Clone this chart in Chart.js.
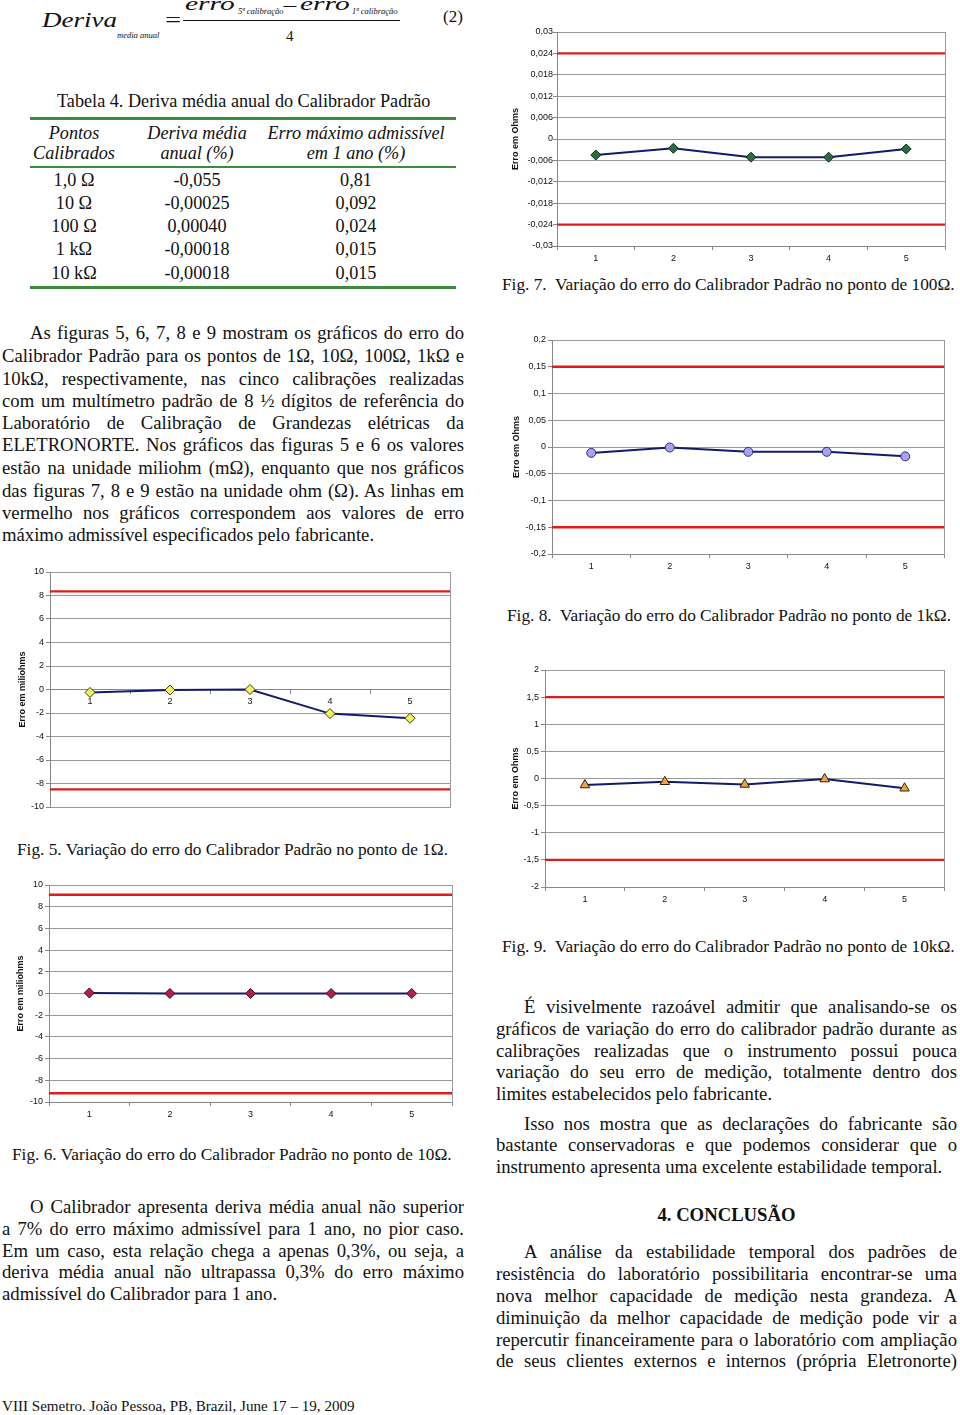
<!DOCTYPE html>
<html lang="pt">
<head>
<meta charset="utf-8">
<title>Deriva do Calibrador Padrão</title>
<script src="https://cdn.jsdelivr.net/npm/chart.js@4/dist/chart.umd.min.js"></script>
<style>
  html, body { margin: 0; padding: 0; background: #fff; }
  body { width: 960px; height: 1415px; position: relative; overflow: hidden;
         font-family: 'Liberation Serif', 'Times New Roman', serif; color: #111; }
  .eq { position: absolute; line-height: 1; white-space: nowrap; font-style: italic; transform-origin: left top; }
  .up { font-style: normal; }
  .ln { position: absolute; height: 22px; line-height: 22px; font-size: 18.7px; overflow: hidden; margin-top: 2px; }
  .j { text-align: justify; text-align-last: justify; }
  .ind { text-indent: 28px; }
  .cap { position: absolute; font-size: 17.3px; line-height: 20px; white-space: nowrap; margin-top: 2px; }
  .tb { position: absolute; font-size: 18.2px; line-height: 21px; text-align: center; white-space: nowrap; margin-top: 1.5px; }
  .it { font-style: italic; }
  .rule { position: absolute; left: 30px; width: 426px; background: #3a8d3a; }
  .graf { position: absolute; }
</style>
</head>
<body>

<!-- equação (2) -->
<span class="eq" style="left:42px; top:9.9px; font-size:20px; transform:scaleX(1.35)">Deriva</span>
<span class="eq" style="left:117px; top:30.6px; font-size:8.5px">media anual</span>
<span class="eq up" style="left:165px; top:8.5px; font-size:22px; transform:scaleX(1.3)">=</span>
<span class="eq" style="left:185px; top:-5.9px; font-size:19px; transform:scaleX(1.55)">erro</span>
<span class="eq" style="left:238px; top:6.9px; font-size:8.5px">5ª calibração</span>
<span class="eq up" style="left:282px; top:-4px; font-size:20px; transform:scaleX(1.4)">−</span>
<span class="eq" style="left:300px; top:-5.9px; font-size:19px; transform:scaleX(1.55)">erro</span>
<span class="eq" style="left:352px; top:6.9px; font-size:8.5px">1ª calibração</span>
<div style="position:absolute; left:183px; top:20px; width:217px; height:1.2px; background:#111"></div>
<span class="eq up" style="left:286px; top:29.1px; font-size:15px">4</span>
<span class="eq up" style="left:443px; top:7.8px; font-size:17px">(2)</span>

<!-- Tabela 4 -->
<div class="tb" style="left:57px; top:89.5px; text-align:left">Tabela 4. Deriva média anual do Calibrador Padrão</div>
<div class="rule" style="top:116.5px; height:3px"></div>
<div class="rule" style="top:166px; height:2px"></div>
<div class="rule" style="top:285.5px; height:3px"></div>
<div id="tabela"></div>

<!-- texto coluna esquerda -->
<div class="ln j ind" style="left:2px; width:462px; top:320px">As figuras 5, 6, 7, 8 e 9 mostram os gráficos do erro do</div>
<div class="ln j" style="left:2px; width:462px; top:343px">Calibrador Padrão para os pontos de 1Ω, 10Ω, 100Ω, 1kΩ e</div>
<div class="ln j" style="left:2px; width:462px; top:366px">10kΩ, respectivamente, nas cinco calibrações realizadas</div>
<div class="ln j" style="left:2px; width:462px; top:388px">com um multímetro padrão de 8 ½ dígitos de referência do</div>
<div class="ln j" style="left:2px; width:462px; top:410px">Laboratório de Calibração de Grandezas elétricas da</div>
<div class="ln j" style="left:2px; width:462px; top:432px">ELETRONORTE. Nos gráficos das figuras 5 e 6 os valores</div>
<div class="ln j" style="left:2px; width:462px; top:455px">estão na unidade miliohm (mΩ), enquanto que nos gráficos</div>
<div class="ln j" style="left:2px; width:462px; top:478px">das figuras 7, 8 e 9 estão na unidade ohm (Ω). As linhas em</div>
<div class="ln j" style="left:2px; width:462px; top:500px">vermelho nos gráficos correspondem aos valores de erro</div>
<div class="ln" style="left:2px; width:462px; top:522px">máximo admissível especificados pelo fabricante.</div>

<div class="ln j ind" style="left:2px; width:462px; top:1194px">O Calibrador apresenta deriva média anual não superior</div>
<div class="ln j" style="left:2px; width:462px; top:1216px">a 7% do erro máximo admissível para 1 ano, no pior caso.</div>
<div class="ln j" style="left:2px; width:462px; top:1238px">Em um caso, esta relação chega a apenas 0,3%, ou seja, a</div>
<div class="ln j" style="left:2px; width:462px; top:1259px">deriva média anual não ultrapassa 0,3% do erro máximo</div>
<div class="ln" style="left:2px; width:462px; top:1281px">admissível do Calibrador para 1 ano.</div>

<!-- texto coluna direita -->
<div class="ln j ind" style="left:496px; width:461px; top:994px">É visivelmente razoável admitir que analisando-se os</div>
<div class="ln j" style="left:496px; width:461px; top:1016px">gráficos de variação do erro do calibrador padrão durante as</div>
<div class="ln j" style="left:496px; width:461px; top:1038px">calibrações realizadas que o instrumento possui pouca</div>
<div class="ln j" style="left:496px; width:461px; top:1059px">variação do seu erro de medição, totalmente dentro dos</div>
<div class="ln" style="left:496px; width:461px; top:1081px">limites estabelecidos pelo fabricante.</div>

<div class="ln j ind" style="left:496px; width:461px; top:1111px">Isso nos mostra que as declarações do fabricante são</div>
<div class="ln j" style="left:496px; width:461px; top:1132px">bastante conservadoras e que podemos considerar que o</div>
<div class="ln" style="left:496px; width:461px; top:1154px">instrumento apresenta uma excelente estabilidade temporal.</div>

<div class="ln" style="left:496px; width:461px; top:1202px; text-align:center; font-weight:bold">4. CONCLUSÃO</div>

<div class="ln j ind" style="left:496px; width:461px; top:1239px">A análise da estabilidade temporal dos padrões de</div>
<div class="ln j" style="left:496px; width:461px; top:1261px">resistência do laboratório possibilitaria encontrar-se uma</div>
<div class="ln j" style="left:496px; width:461px; top:1283px">nova melhor capacidade de medição nesta grandeza. A</div>
<div class="ln j" style="left:496px; width:461px; top:1305px">diminuição da melhor capacidade de medição pode vir a</div>
<div class="ln j" style="left:496px; width:461px; top:1327px">repercutir financeiramente para o laboratório com ampliação</div>
<div class="ln j" style="left:496px; width:461px; top:1348px">de seus clientes externos e internos (própria Eletronorte)</div>

<!-- gráficos -->
<div class="graf"><canvas id="fig5"></canvas></div>
<div class="graf"><canvas id="fig6"></canvas></div>
<div class="graf"><canvas id="fig7"></canvas></div>
<div class="graf"><canvas id="fig8"></canvas></div>
<div class="graf"><canvas id="fig9"></canvas></div>

<div class="cap" style="left:17px; top:838px">Fig. 5. Variação do erro do Calibrador Padrão no ponto de 1Ω.</div>
<div class="cap" style="left:12px; top:1143px">Fig. 6. Variação do erro do Calibrador Padrão no ponto de 10Ω.</div>
<div class="cap" style="left:502px; top:273px">Fig. 7.&nbsp; Variação do erro do Calibrador Padrão no ponto de 100Ω.</div>
<div class="cap" style="left:507px; top:604px">Fig. 8.&nbsp; Variação do erro do Calibrador Padrão no ponto de 1kΩ.</div>
<div class="cap" style="left:502px; top:935px">Fig. 9.&nbsp; Variação do erro do Calibrador Padrão no ponto de 10kΩ.</div>

<div style="position:absolute; left:2px; top:1398px; font-size:15.1px; line-height:17px; white-space:nowrap">VIII Semetro. João Pessoa, PB, Brazil, June 17 – 19, 2009</div>

<script>
// tabela 4
const pontos = ['1,0 Ω', '10 Ω', '100 Ω', '1 kΩ', '10 kΩ'];
const derivaMedia = ['-0,055', '-0,00025', '0,00040', '-0,00018', '-0,00018'];
const erroMaximo = ['0,81', '0,092', '0,024', '0,015', '0,015'];

// calibrações (eixo x de todos os gráficos)
const calibracoes = ['1', '2', '3', '4', '5'];

// Fig. 5 - ponto de 1 ohm (miliohms)
const erro1R = [-0.25, -0.05, 0, -2.05, -2.45];
const limites1R = [8.35, -8.5];
const eixo1R = [-10, 10, 2];

// Fig. 6 - ponto de 10 ohms (miliohms)
const erro10R = [0.05, 0, 0, 0, 0];
const limites10R = [9.1, -9.2];
const eixo10R = [-10, 10, 2];

// Fig. 7 - ponto de 100 ohms (ohms)
const erro100R = [-0.0045, -0.0026, -0.0051, -0.0051, -0.0028];
const limites100R = [0.024, -0.024];
const eixo100R = [-0.03, 0.03, 0.006];

// Fig. 8 - ponto de 1 kohm (ohms)
const erro1k = [-0.011, -0.001, -0.009, -0.009, -0.0175];
const limites1k = [0.15, -0.15];
const eixo1k = [-0.2, 0.2, 0.05];

// Fig. 9 - ponto de 10 kohms (ohms)
const erro10k = [-0.12, -0.06, -0.11, -0.01, -0.18];
const limites10k = [1.5, -1.5];
const eixo10k = [-2, 2, 0.5];

const tabela = document.getElementById('tabela');
const colunas = [[4, 140], [127, 140], [256, 200]];
const cabecalho = [['Pontos', 'Calibrados'], ['Deriva média', 'anual (%)'], ['Erro máximo admissível', 'em 1 ano (%)']];
const topoLinhas = [168.5, 191.5, 214.5, 237.5, 261.5];
cabecalho.forEach((c, i) => {
    c.forEach((t, k) => {
        let d = document.createElement('div');
        d.className = 'tb it';
        d.style.left = colunas[i][0] + 'px';
        d.style.width = colunas[i][1] + 'px';
        d.style.top = (121.5 + k * 20) + 'px';
        d.textContent = t;
        tabela.appendChild(d);
    });
});
[pontos, derivaMedia, erroMaximo].forEach((col, i) => {
    col.forEach((t, k) => {
        let d = document.createElement('div');
        d.className = 'tb';
        d.style.left = colunas[i][0] + 'px';
        d.style.width = colunas[i][1] + 'px';
        d.style.top = topoLinhas[k] + 'px';
        d.textContent = t;
        tabela.appendChild(d);
    });
});

// linhas justificadas que não cabem: reduz um pouco a fonte
document.querySelectorAll('.ln').forEach(el => {
    let fs = parseFloat(getComputedStyle(el).fontSize);
    while (el.scrollHeight > el.clientHeight + 2 && fs > 14) {
        fs -= 0.2;
        el.style.fontSize = fs + 'px';
    }
});

Chart.defaults.font.family = "'Liberation Sans', Arial, sans-serif";
Chart.defaults.font.size = 9;
Chart.defaults.color = '#111';

const virgula = v => String(Math.round(v * 1e6) / 1e6).replace('.', ',');

const criarGrafico = (id, area, tituloX, titulo, valores, limites, eixo, marcador, extra) => {
    extra = extra || {};
    const wrap = document.getElementById(id).parentNode;
    const noZero = !!extra.noZero;
    const left = Math.round(tituloX - 5.4);
    const top = area.t - 8;
    const xH = noZero ? 0 : 22;
    const padBottom = noZero ? 8 : 0;
    wrap.style.left = left + 'px';
    wrap.style.top = top + 'px';
    wrap.style.width = (area.r + 4 - left) + 'px';
    wrap.style.height = (area.b - top + xH + padBottom) + 'px';
    const yW = area.l - left;

    const passo = extra.menor || eixo[2];
    const principal = v => Math.abs(v / eixo[2] - Math.round(v / eixo[2])) < 1e-6;

    let datasets = [{
        data: valores,
        xAxisID: 'x',
        yAxisID: 'y',
        borderColor: '#141a6b',
        borderWidth: 2,
        tension: 0,
        pointStyle: marcador.estilo,
        pointRadius: marcador.raio,
        pointBackgroundColor: marcador.cor,
        pointBorderColor: marcador.borda,
        pointBorderWidth: 1
    }];
    limites.forEach(v => {
        datasets.push({
            data: [{x: 0, y: v}, {x: 1, y: v}],
            xAxisID: 'xl',
            yAxisID: 'y',
            borderColor: '#e01b1b',
            borderWidth: 2.4,
            pointRadius: 0
        });
    });

    return new Chart(document.getElementById(id), {
        type: 'line',
        data: { labels: calibracoes, datasets: datasets },
        options: {
            responsive: true,
            maintainAspectRatio: false,
            animation: false,
            layout: { padding: { top: 8, right: 4, bottom: padBottom, left: 0 } },
            plugins: { legend: { display: false }, tooltip: { enabled: false } },
            scales: {
                x: {
                    type: 'category',
                    offset: true,
                    position: noZero ? { y: 0 } : 'bottom',
                    grid: { display: true, offset: true, drawOnChartArea: false, drawTicks: true, tickLength: 4, color: '#888' },
                    border: { color: '#888' },
                    ticks: { padding: 3, maxRotation: 0, color: '#111' },
                    afterFit: s => { s.height = xH; }
                },
                xl: { type: 'linear', display: false, min: 0, max: 1 },
                y: {
                    min: eixo[0],
                    max: eixo[1],
                    ticks: {
                        stepSize: passo,
                        padding: extra.padY !== undefined ? extra.padY : 2,
                        color: '#111',
                        callback: v => principal(v) ? virgula(v) : ''
                    },
                    grid: {
                        color: c => (c.tick && principal(c.tick.value)) ? '#9a9a9a' : 'rgba(0,0,0,0)',
                        tickColor: '#888',
                        tickLength: 4
                    },
                    border: { color: '#888' },
                    title: { display: true, text: titulo, color: '#111', font: { size: 9, weight: 'bold' }, padding: { top: 0, bottom: 0 } },
                    afterFit: s => { s.width = yW; }
                },
                y2: {
                    position: 'right',
                    display: true,
                    grid: { drawOnChartArea: false, drawTicks: false },
                    ticks: { display: false },
                    border: { color: '#9a9a9a' },
                    afterFit: s => { s.width = 0; }
                }
            }
        }
    });
};

criarGrafico('fig5', { l: 50, r: 452, t: 572, b: 807 }, 22.5, 'Erro em miliohms', erro1R, limites1R, eixo1R,
    { estilo: 'rectRot', raio: 5, cor: '#f4f45a', borda: '#3a3a20' }, { noZero: true });
criarGrafico('fig6', { l: 49, r: 454, t: 885, b: 1102 }, 20.5, 'Erro em miliohms', erro10R, limites10R, eixo10R,
    { estilo: 'rectRot', raio: 5, cor: '#b0204a', borda: '#4a0a1a' });
criarGrafico('fig7', { l: 557, r: 947, t: 32, b: 246 }, 515.5, 'Erro em Ohms', erro100R, limites100R, eixo100R,
    { estilo: 'rectRot', raio: 5, cor: '#2d6a45', borda: '#0b2a18' }, { menor: 0.003, padY: 0 });
criarGrafico('fig8', { l: 552, r: 946, t: 340, b: 554 }, 516, 'Erro em Ohms', erro1k, limites1k, eixo1k,
    { estilo: 'circle', raio: 4.5, cor: '#aa9ff0', borda: '#30307a' });
criarGrafico('fig9', { l: 545, r: 947, t: 670, b: 887 }, 515.8, 'Erro em Ohms', erro10k, limites10k, eixo10k,
    { estilo: 'triangle', raio: 5.5, cor: '#e9a545', borda: '#3a2200' });
</script>
</body>
</html>
